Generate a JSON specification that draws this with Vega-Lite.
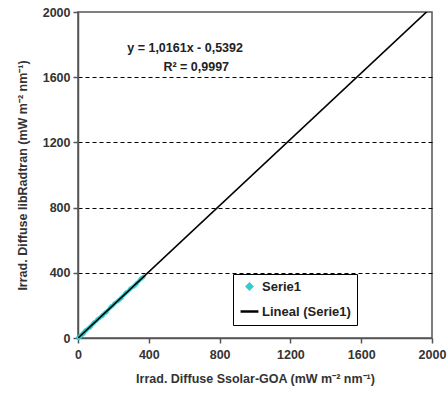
{
  "$schema": "https://vega.github.io/schema/vega-lite/v6.json",
  "width": 354,
  "height": 326,
  "autosize": "none",
  "padding": {"left": 78, "top": 12, "right": 16, "bottom": 58},
  "background": "white",
  "config": {
    "view": {"stroke": "#555555", "strokeWidth": 1.5},
    "font": "Liberation Sans",
    "axis": {
      "labelFont": "Liberation Sans", "labelFontWeight": "bold", "labelFontSize": 12.5, "labelColor": "#333333",
      "titleFont": "Liberation Sans", "titleFontWeight": "bold", "titleFontSize": 12.5, "titleColor": "#333333",
      "domainColor": "#555555", "domainWidth": 1.5, "tickColor": "#555555", "tickWidth": 1.5, "tickSize": 5
    },
    "legend": {
      "orient": "none", "legendX": 155, "legendY": 262,
      "strokeColor": "black", "padding": 6, "rowPadding": 6,
      "labelFont": "Liberation Sans", "labelFontWeight": "bold", "labelFontSize": 13, "labelColor": "#222222",
      "symbolStrokeWidth": 2.5, "labelOffset": 2, "fillColor": "white"
    }
  },
  "datasets": {
    "pts": [
      {"x": 2, "y": 1.5, "s": "Serie1"}, {"x": 5, "y": 5.8, "s": "Serie1"}, {"x": 8, "y": 7.5, "s": "Serie1"}, {"x": 12, "y": 12.9, "s": "Serie1"},
      {"x": 15, "y": 15.9, "s": "Serie1"}, {"x": 22, "y": 21.5, "s": "Serie1"}, {"x": 26, "y": 27.8, "s": "Serie1"}, {"x": 30, "y": 31, "s": "Serie1"},
      {"x": 38, "y": 38.2, "s": "Serie1"}, {"x": 45, "y": 46.5, "s": "Serie1"}, {"x": 52, "y": 52, "s": "Serie1"}, {"x": 60, "y": 61.2, "s": "Serie1"},
      {"x": 68, "y": 68.5, "s": "Serie1"}, {"x": 75, "y": 76.8, "s": "Serie1"}, {"x": 85, "y": 85.5, "s": "Serie1"}, {"x": 95, "y": 96.4, "s": "Serie1"},
      {"x": 105, "y": 106, "s": "Serie1"}, {"x": 115, "y": 117.2, "s": "Serie1"}, {"x": 125, "y": 126, "s": "Serie1"}, {"x": 135, "y": 137.4, "s": "Serie1"},
      {"x": 145, "y": 146.8, "s": "Serie1"}, {"x": 155, "y": 157.5, "s": "Serie1"}, {"x": 165, "y": 167, "s": "Serie1"}, {"x": 178, "y": 180.6, "s": "Serie1"},
      {"x": 190, "y": 192.4, "s": "Serie1"}, {"x": 200, "y": 202, "s": "Serie1"}, {"x": 212, "y": 215.5, "s": "Serie1"}, {"x": 225, "y": 228, "s": "Serie1"},
      {"x": 238, "y": 241, "s": "Serie1"}, {"x": 250, "y": 254.2, "s": "Serie1"}, {"x": 262, "y": 265.5, "s": "Serie1"}, {"x": 275, "y": 279.4, "s": "Serie1"},
      {"x": 288, "y": 292, "s": "Serie1"}, {"x": 300, "y": 304.6, "s": "Serie1"}, {"x": 312, "y": 316.5, "s": "Serie1"}, {"x": 325, "y": 330.1, "s": "Serie1"},
      {"x": 338, "y": 343, "s": "Serie1"}, {"x": 350, "y": 355.6, "s": "Serie1"}, {"x": 362, "y": 367.5, "s": "Serie1"}, {"x": 370, "y": 375.4, "s": "Serie1"},
      {"x": 18, "y": 13.5, "s": "Serie1"}, {"x": 40, "y": 45.5, "s": "Serie1"}, {"x": 70, "y": 65.5, "s": "Serie1"}, {"x": 110, "y": 115.5, "s": "Serie1"},
      {"x": 160, "y": 157, "s": "Serie1"}, {"x": 205, "y": 212, "s": "Serie1"}, {"x": 245, "y": 243, "s": "Serie1"}, {"x": 295, "y": 303, "s": "Serie1"},
      {"x": 330, "y": 330, "s": "Serie1"}, {"x": 32, "y": 26, "s": "Serie1"}, {"x": 88, "y": 94, "s": "Serie1"}, {"x": 140, "y": 136, "s": "Serie1"},
      {"x": 185, "y": 192, "s": "Serie1"}, {"x": 230, "y": 229, "s": "Serie1"}, {"x": 268, "y": 276, "s": "Serie1"}, {"x": 318, "y": 318, "s": "Serie1"},
      {"x": 355, "y": 365, "s": "Serie1"}
    ],
    "fit": [
      {"x": 0, "y": -0.5392, "s": "Lineal (Serie1)"},
      {"x": 2000, "y": 2031.6608, "s": "Lineal (Serie1)"}
    ],
    "eq": [
      {"x": 605, "y": 1779, "t": "y = 1,0161x - 0,5392"},
      {"x": 668, "y": 1663, "t": "R² = 0,9997"}
    ]
  },
  "layer": [
    {
      "data": {"name": "pts"},
      "mark": {"type": "point", "filled": true, "opacity": 1},
      "encoding": {
        "x": {"field": "x", "type": "quantitative",
          "scale": {"domain": [0, 2000], "nice": false},
          "axis": {"values": [0, 400, 800, 1200, 1600, 2000], "format": "d", "grid": false, "labelPadding": 5, "titlePadding": 12,
            "title": "Irrad.  Diffuse Ssolar-GOA (mW m⁻² nm⁻¹)", "labelFlush": false}},
        "y": {"field": "y", "type": "quantitative",
          "scale": {"domain": [0, 2000], "nice": false},
          "axis": {"values": [0, 400, 800, 1200, 1600, 2000], "format": "d", "grid": true, "gridColor": "black", "gridDash": [4, 3], "gridWidth": 1,
            "gridOpacity": {"condition": {"test": "datum.value == 0 || datum.value == 2000", "value": 0}, "value": 1},
            "labelPadding": 3, "titlePadding": 13, "labelFlush": false,
            "title": "Irrad. Diffuse libRadtran (mW m⁻² nm⁻¹)"}},
        "color": {"field": "s", "type": "nominal",
          "scale": {"domain": ["Serie1", "Lineal (Serie1)"], "range": ["#33CCCC", "black"]},
          "legend": {"title": null,
            "encode": {"symbols": {"update": {
                "fill": {"signal": "datum.value == 'Serie1' ? '#33CCCC' : 'black'"},
                "stroke": {"signal": "datum.value == 'Serie1' ? '#33CCCC' : 'black'"},
                "strokeWidth": {"signal": "datum.value == 'Serie1' ? 0 : 2.5"}
            }}}}},
        "shape": {"field": "s", "type": "nominal",
          "scale": {"domain": ["Serie1", "Lineal (Serie1)"], "range": ["diamond", "stroke"]},
          "legend": {"title": null}},
        "size": {"field": "s", "type": "nominal",
          "scale": {"domain": ["Serie1", "Lineal (Serie1)"], "range": [28, 320]},
          "legend": {"title": null}}
      }
    },
    {
      "data": {"name": "fit"},
      "mark": {"type": "line", "color": "black", "strokeWidth": 1.6, "clip": true},
      "encoding": {
        "x": {"field": "x", "type": "quantitative"},
        "y": {"field": "y", "type": "quantitative"},
        "color": {"field": "s", "type": "nominal"}
      }
    },
    {
      "data": {"name": "eq"},
      "mark": {"type": "text", "font": "Liberation Sans", "fontWeight": "bold", "fontSize": 12.5, "color": "#222222", "align": "center", "baseline": "middle"},
      "encoding": {
        "x": {"field": "x", "type": "quantitative"},
        "y": {"field": "y", "type": "quantitative"},
        "text": {"field": "t"}
      }
    }
  ]
}
